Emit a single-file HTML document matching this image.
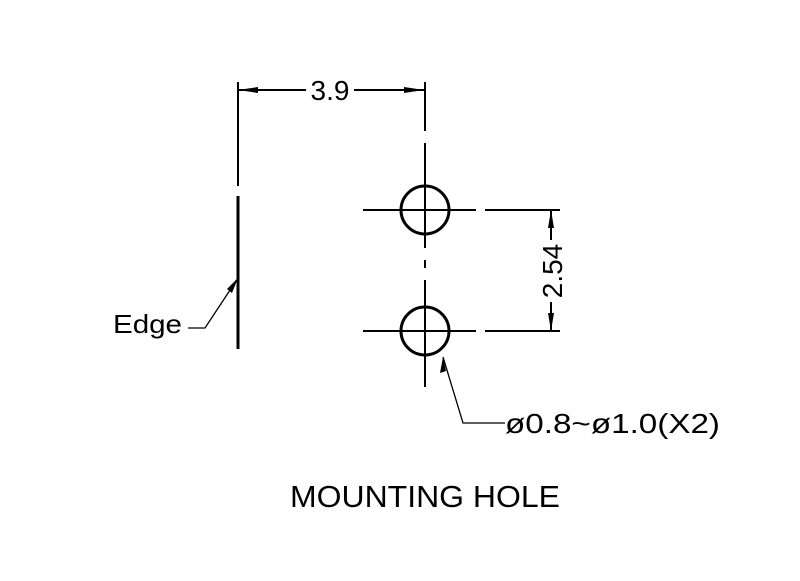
<!DOCTYPE html>
<html><head><style>html,body{margin:0;padding:0;background:#fff}</style></head>
<body>
<svg width="800" height="576" xmlns="http://www.w3.org/2000/svg" font-family="Liberation Sans, sans-serif">
<rect width="800" height="576" fill="#fff"/>
<g stroke="#000" fill="none">
<line x1="238" y1="82" x2="238" y2="186" stroke-width="2"/>
<line x1="238" y1="196" x2="238" y2="349" stroke-width="3"/>
<line x1="238" y1="90" x2="306" y2="90" stroke-width="2"/>
<line x1="354" y1="90" x2="424" y2="90" stroke-width="2"/>
<line x1="425" y1="82" x2="425" y2="131" stroke-width="2"/>
<line x1="425" y1="143" x2="425" y2="248" stroke-width="2"/>
<line x1="425" y1="260" x2="425" y2="268" stroke-width="2"/>
<line x1="425" y1="280" x2="425" y2="387" stroke-width="2"/>
<circle cx="425" cy="210" r="24" stroke-width="3"/>
<circle cx="425" cy="331" r="24" stroke-width="3"/>
<line x1="363" y1="210" x2="476" y2="210" stroke-width="2"/>
<line x1="485" y1="210" x2="560" y2="210" stroke-width="2"/>
<line x1="363" y1="331" x2="476" y2="331" stroke-width="2"/>
<line x1="485" y1="331" x2="560" y2="331" stroke-width="2"/>
<line x1="551" y1="210" x2="551" y2="240" stroke-width="2"/>
<line x1="551" y1="302" x2="551" y2="331" stroke-width="2"/>
<polyline points="238,278 205,328 188,328" stroke-width="1.3"/>
<polyline points="443,357 463,423 505,423" stroke-width="1.3"/>
</g>
<g fill="#000">
<polygon points="238,90 258,87 258,93"/>
<polygon points="424,90 404,87 404,93"/>
<polygon points="551,210 548,228 554,228"/>
<polygon points="551,331 548,313 554,313"/>
<polygon points="238,278 227,289 232,293"/>
<polygon points="443,357 440,373 446,371"/>
</g>
<g fill="#000">
<text x="330" y="100" font-size="28" text-anchor="middle">3.9</text>
<text transform="translate(562,271) rotate(-90)" font-size="28" text-anchor="middle">2.54</text>
<text x="113" y="333" font-size="26" textLength="69" lengthAdjust="spacingAndGlyphs">Edge</text>
<text x="505" y="433" font-size="28" textLength="215" lengthAdjust="spacingAndGlyphs">ø0.8~ø1.0(X2)</text>
<text x="290" y="507" font-size="31" textLength="270" lengthAdjust="spacingAndGlyphs">MOUNTING HOLE</text>
</g>
</svg>
</body></html>
